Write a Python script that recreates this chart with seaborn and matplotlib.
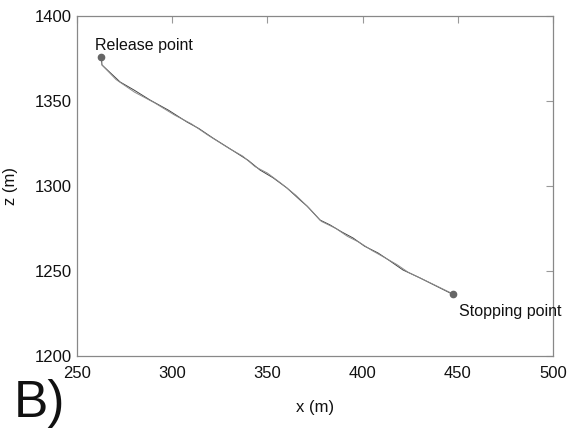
import pandas as pd
import matplotlib.pyplot as plt
import seaborn as sns

# Trajectory readings (two overlapping runs)
x_run1 = [262.8, 263.1, 272.6, 280.0, 288.3, 298.0, 307.8, 314.0, 321.4, 333.0, 340.0, 346.1,
          353.0, 360.3, 367.1, 370.8, 377.6, 382.9, 389.0, 395.0, 401.0, 408.1, 414.0, 421.2,
          430.0, 440.7, 445.9, 447.5]
z_run1 = [1376.0, 1371.2, 1361.2, 1356.4, 1350.6, 1344.6, 1337.6, 1333.8, 1328.2, 1320.0,
          1315.0, 1309.4, 1304.8, 1298.8, 1291.8, 1288.2, 1280.0, 1277.1, 1273.0, 1269.4,
          1264.6, 1260.6, 1256.2, 1250.6, 1246.0, 1240.0, 1237.1, 1236.5]
x_run2 = [263.1, 270.5, 280.2, 290.6, 301.4, 310.0, 318.9, 330.2, 337.0, 343.5, 350.0,
          356.8, 364.9, 371.9, 378.3, 386.0, 392.0, 398.2, 405.0, 411.4, 418.0, 424.0,
          437.6, 444.0, 447.5]
z_run2 = [1371.2, 1362.6, 1355.2, 1349.0, 1341.6, 1336.6, 1329.8, 1321.9, 1317.6, 1311.4,
          1307.6, 1301.9, 1294.6, 1287.0, 1279.2, 1275.0, 1270.4, 1266.9, 1262.0, 1258.0,
          1253.8, 1249.2, 1241.9, 1238.4, 1236.5]

release = (262.8, 1376.0)
stopping = (447.5, 1236.5)

df = pd.concat([
    pd.DataFrame({"x": x_run1, "z": z_run1, "run": "1"}),
    pd.DataFrame({"x": x_run2, "z": z_run2, "run": "2"}),
])

sns.set_style("white")
plt.rcParams["font.family"] = ["Liberation Sans Narrow", "Liberation Sans", "DejaVu Sans"]

fig = plt.figure(figsize=(5.71, 4.32), dpi=100)
ax = fig.add_axes([0.1349, 0.1759, 0.8336, 0.7871])

sns.lineplot(data=df, x="x", y="z", hue="run", palette=["#444444", "#8a8a8a"],
             sort=False, estimator=None, linewidth=0.7, legend=False, ax=ax)
ax.plot(*release, "o", color="#666666", markersize=4.5)
ax.plot(*stopping, "o", color="#666666", markersize=4.5)

ax.text(259.5, 1380, "Release point", fontsize=11.5, color="#111111")
ax.text(450.8, 1223.5, "Stopping point", fontsize=11.5, color="#111111")

ax.set_xlim(250, 500)
ax.set_ylim(1200, 1400)
ax.set_xticks([250, 300, 350, 400, 450, 500])
ax.set_yticks([1200, 1250, 1300, 1350, 1400])
ax.tick_params(direction="in", top=True, right=True, length=5, width=0.8,
               color="#999999", labelsize=12, labelcolor="#111111")
ax.tick_params(axis="x", pad=7)
ax.tick_params(axis="y", pad=4)
for s in ax.spines.values():
    s.set_color("#888888")
    s.set_linewidth(0.9)

ax.set_xlabel("x (m)", fontsize=12, color="#111111", labelpad=14)
ax.set_ylabel("z (m)", fontsize=12, color="#111111", labelpad=12)

fig.text(0.024, 0.035, "B)", fontsize=37, color="#111111")

plt.savefig("out.png", dpi=100)
